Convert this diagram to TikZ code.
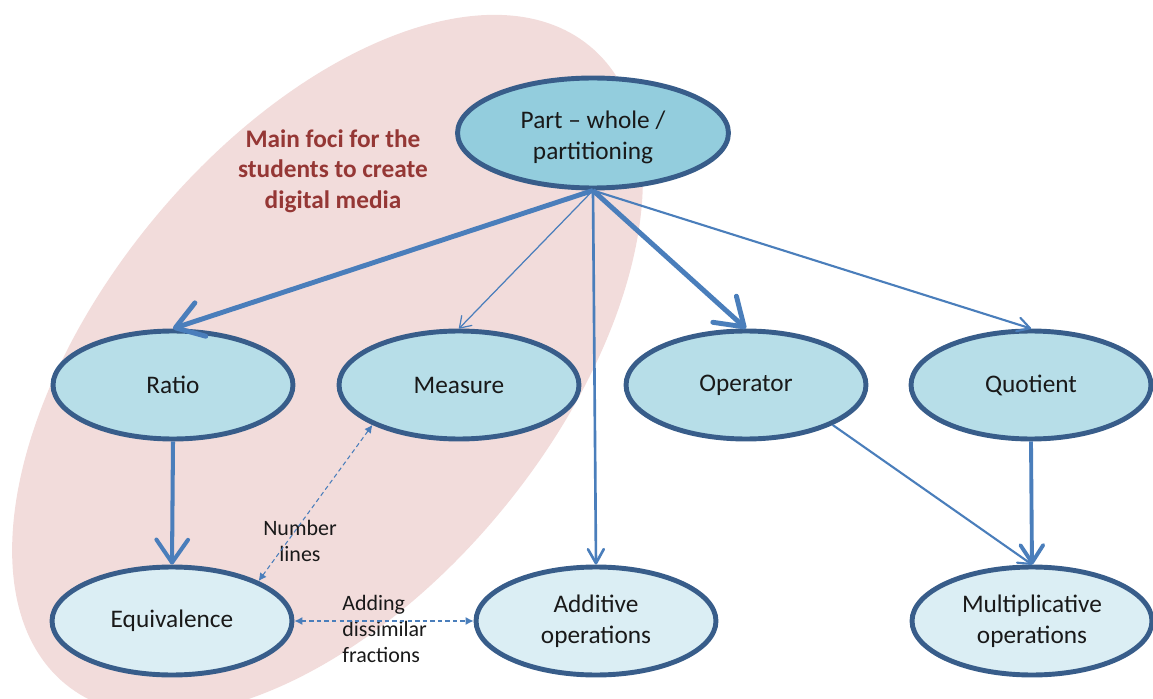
\documentclass[tikz,border=0pt]{standalone}
\usepackage{fontspec}
\setmainfont{Carlito}
\usetikzlibrary{shapes.geometric,arrows.meta}

\definecolor{fociback}{HTML}{F2DCDB}
\definecolor{focitext}{HTML}{953735}
\definecolor{rim}{HTML}{385D8A}
\definecolor{link}{HTML}{4A7EBB}
\definecolor{topfill}{HTML}{93CDDD}
\definecolor{midfill}{HTML}{B7DEE8}
\definecolor{lowfill}{HTML}{DBEEF4}

\begin{document}
\begin{tikzpicture}[x=0.02cm,y=-0.02cm,
  concept/.style={ellipse, draw=rim, line width=2.8pt, inner sep=0pt,
    minimum width=4.8cm, minimum height=2.16cm, align=center,
    text=black!90, font=\fontsize{14.4}{17.6}\selectfont},
  focilabel/.style={align=center, text=focitext, inner sep=0pt,
    font=\fontsize{14.4}{17.4}\selectfont\bfseries},
  smalllabel/.style={align=center, inner sep=0pt, text=black!90,
    font=\fontsize{12.5}{14.8}\selectfont},
  heavylink/.style={draw=link, line width=2.8pt,
    -{Straight Barb[length=15pt,width=20pt,round]}},
  stronglink/.style={draw=link, line width=2.3pt,
    -{Straight Barb[length=13pt,width=18pt,round]}},
  boldlink/.style={draw=link, line width=2.2pt,
    -{Straight Barb[length=10pt,width=13pt,round]}},
  midlink/.style={draw=link, line width=1.5pt,
    -{Straight Barb[length=8pt,width=9pt,round]}},
  lightlink/.style={draw=link, line width=1.2pt,
    -{Straight Barb[length=7pt,width=8pt,round]}},
  finelink/.style={draw=link, line width=0.7pt,
    -{Straight Barb[length=6pt,width=8pt,round]}},
  dashlink/.style={draw=link, line width=0.6pt,
    dash pattern=on 2.5pt off 1.8pt,
    {Latex[length=4.5pt,width=4.5pt]}-{Latex[length=4.5pt,width=4.5pt]}}
]

\useasboundingbox (0,0) rectangle (1153,699);

% shaded region around the focus topics
\begin{scope}
  \clip (0,0) rectangle (1153,699);
  \fill[fociback, rotate around={50.6:(327.5,365)}]
    (327.5,365) ellipse [x radius=8.26cm, y radius=4.54cm];
\end{scope}

% concepts
\node[concept, fill=topfill, minimum width=5.42cm, minimum height=2.2cm]
  (pw) at (593,133) {\rule{0pt}{14.5pt}Part – whole /\\partitioning};
\node[concept, fill=midfill] (ratio)    at (173,385)  {Ratio};
\node[concept, fill=midfill] (measure)  at (459,385)  {Measure};
\node[concept, fill=midfill] (operator) at (746,385)  {Operator};
\node[concept, fill=midfill] (quotient) at (1031,385) {Quotient};
\node[concept, fill=lowfill] (equiv)    at (172,621)  {Equivalence};
\node[concept, fill=lowfill] (additive) at (596,621)  {Additive\\operations};
\node[concept, fill=lowfill] (mult)     at (1032,621) {Multiplicative\\operations};

% labels
\node[focilabel] (foci) at (333,171)
  {Main foci for the\\students to create\\digital media};
\node[smalllabel] (numlines) at (300,541) {Number\\lines};
\node[smalllabel, align=left, anchor=west] (adding) at (342,629)
  {Adding\\dissimilar\\fractions};

% connectors
\draw[heavylink]  (pw.south) -- (ratio.north);
\draw[finelink]   (pw.south) -- (measure.north);
\draw[midlink]    (pw.south) -- (additive.north);
\draw[heavylink]  (pw.south) -- (operator.north);
\draw[lightlink]  (pw.south) -- (quotient.north);
\draw[stronglink] (ratio.south) -- (equiv.north);
\draw[boldlink]   (quotient.south) -- (mult.north);
\draw[lightlink]  (operator.south east) -- (mult.north);
\draw[dashlink]   (equiv.north east) -- (measure.south west);
\draw[dashlink]   (equiv.east) -- (additive.west);

\end{tikzpicture}
\end{document}
